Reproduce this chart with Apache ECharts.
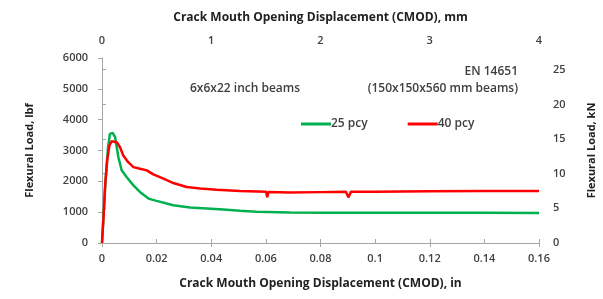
<!DOCTYPE html>
<html>
<head>
<meta charset="utf-8">
<script src="https://cdn.jsdelivr.net/npm/echarts@6/dist/echarts.min.js"></script>
<style>
  html, body { margin: 0; padding: 0; background: #fff; }
  #chart { width: 603px; height: 299px; }
</style>
</head>
<body>
<div id="chart"></div>
<script>
// CMOD in inches, load in lbf
const cmod25 = [0, 0.0012, 0.0022, 0.0029, 0.0039, 0.0048, 0.006, 0.0072, 0.009, 0.0115, 0.0139, 0.017, 0.02, 0.0261, 0.0322, 0.0383, 0.0444, 0.0505, 0.0566, 0.0688, 0.08, 0.1, 0.12, 0.14, 0.16]
const load25 = [0, 1900, 3100, 3540, 3570, 3430, 2780, 2360, 2140, 1870, 1655, 1440, 1365, 1225, 1150, 1120, 1085, 1045, 1010, 990, 985, 985, 980, 980, 975]

const cmod40 = [0, 0.0007, 0.0012, 0.0019, 0.0027, 0.0035, 0.0054, 0.0066, 0.0078, 0.0096, 0.0115, 0.0139, 0.0164, 0.0188, 0.0225, 0.0261, 0.031, 0.0359, 0.042, 0.0505, 0.0601, 0.0605, 0.0609, 0.0688, 0.08, 0.0893, 0.0902, 0.0912, 0.1, 0.12, 0.14, 0.16]
const load40 = [0, 1065, 1925, 2680, 3160, 3300, 3270, 3105, 2840, 2620, 2460, 2410, 2355, 2225, 2085, 1945, 1815, 1765, 1730, 1690, 1660, 1480, 1655, 1640, 1650, 1660, 1480, 1665, 1665, 1675, 1685, 1690]

const yTicksLbf = [0, 6000, 1000]
const yTicksKn = [0, 6000 * 0.0044482, 5]
const xTicksIn = [0, 0.16, 0.02]
const xTicksMm = [0, 4, 1]

const labelColor = '#404040'
const fontFam = 'Open Sans'

function pairs (xs, ys) {
  return xs.map((x, i) => [x, ys[i]])
}

let myChart = echarts.init(document.getElementById('chart'), null, { renderer: 'canvas' })
myChart.setOption({
  animation: false,
  grid: { left: 102, right: 64, top: 58, bottom: 56, outerBoundsMode: 'none', containLabel: false },
  legend: {
    left: 296,
    top: 113,
    itemWidth: 30,
    itemHeight: 3,
    itemGap: 40,
    icon: 'rect',
    textStyle: { color: labelColor, fontFamily: fontFam, fontSize: 12, fontWeight: 600, padding: [0, 0, 0, -5] },
    data: ['25 pcy', '40 pcy']
  },
  xAxis: [
    {
      type: 'value',
      position: 'bottom',
      min: xTicksIn[0],
      max: xTicksIn[1],
      interval: xTicksIn[2],
      name: 'Crack Mouth Opening Displacement (CMOD), in',
      nameLocation: 'middle',
      nameGap: 35,
      nameTextStyle: { color: '#222', fontFamily: fontFam, fontSize: 12, fontWeight: 'bold' },
      axisLine: { lineStyle: { color: '#a6a6a6', width: 1 } },
      axisTick: { inside: true, length: 4, lineStyle: { color: '#a6a6a6' } },
      axisLabel: { color: labelColor, fontFamily: fontFam, fontSize: 11, fontWeight: 600, margin: 10 },
      splitLine: { show: false }
    },
    {
      type: 'value',
      position: 'top',
      min: xTicksMm[0],
      max: xTicksMm[1],
      interval: xTicksMm[2],
      name: 'Crack Mouth Opening Displacement (CMOD), mm',
      nameLocation: 'middle',
      nameGap: 34,
      nameTextStyle: { color: '#222', fontFamily: fontFam, fontSize: 12, fontWeight: 'bold' },
      axisLine: { lineStyle: { color: '#a6a6a6', width: 1 } },
      axisTick: { inside: true, length: 4, lineStyle: { color: '#a6a6a6' } },
      axisLabel: { color: labelColor, fontFamily: fontFam, fontSize: 11, fontWeight: 600, margin: 12 },
      splitLine: { show: false }
    }
  ],
  yAxis: [
    {
      type: 'value',
      position: 'left',
      min: yTicksLbf[0],
      max: yTicksLbf[1],
      interval: yTicksLbf[2],
      name: 'Flexural Load, lbf',
      nameLocation: 'middle',
      nameGap: 67,
      nameTextStyle: { color: '#222', fontFamily: fontFam, fontSize: 11, fontWeight: 'bold' },
      axisLine: { show: true, lineStyle: { color: '#a6a6a6', width: 1 } },
      axisTick: { show: true, length: 4, lineStyle: { color: '#a6a6a6' } },
      axisLabel: { color: labelColor, fontFamily: fontFam, fontSize: 11, fontWeight: 600, margin: 14, formatter: (v) => String(v) },
      splitLine: { show: false }
    },
    {
      type: 'value',
      position: 'right',
      min: yTicksKn[0],
      max: yTicksKn[1],
      interval: yTicksKn[2],
      name: 'Flexural Load, kN',
      nameLocation: 'middle',
      nameGap: 47,
      nameTextStyle: { color: '#222', fontFamily: fontFam, fontSize: 11, fontWeight: 'bold' },
      axisLine: { show: true, lineStyle: { color: '#a6a6a6', width: 1 } },
      axisTick: { show: true, length: 4, lineStyle: { color: '#a6a6a6' } },
      axisLabel: { color: labelColor, fontFamily: fontFam, fontSize: 11, fontWeight: 600, margin: 14, showMaxLabel: false },
      splitLine: { show: false }
    }
  ],
  graphic: [
    { type: 'text', left: 190, top: 83, style: { text: '6x6x22 inch beams', fill: labelColor, font: '600 12px "Open Sans"' } },
    { type: 'text', right: 85, top: 83, style: { text: '(150x150x560 mm beams)', fill: labelColor, font: '600 12px "Open Sans"', textAlign: 'right' } },
    { type: 'text', right: 85, top: 66, style: { text: 'EN 14651', fill: labelColor, font: '600 12px "Open Sans"', textAlign: 'right' } }
  ],
  series: [
    {
      name: '25 pcy',
      type: 'line',
      xAxisIndex: 0,
      yAxisIndex: 0,
      showSymbol: false,
      color: '#00b050',
      lineStyle: { width: 2.5 },
      data: pairs(cmod25, load25)
    },
    {
      name: '40 pcy',
      type: 'line',
      xAxisIndex: 0,
      yAxisIndex: 0,
      showSymbol: false,
      color: '#ff0000',
      lineStyle: { width: 2.5 },
      data: pairs(cmod40, load40)
    }
  ]
})
</script>
</body>
</html>
